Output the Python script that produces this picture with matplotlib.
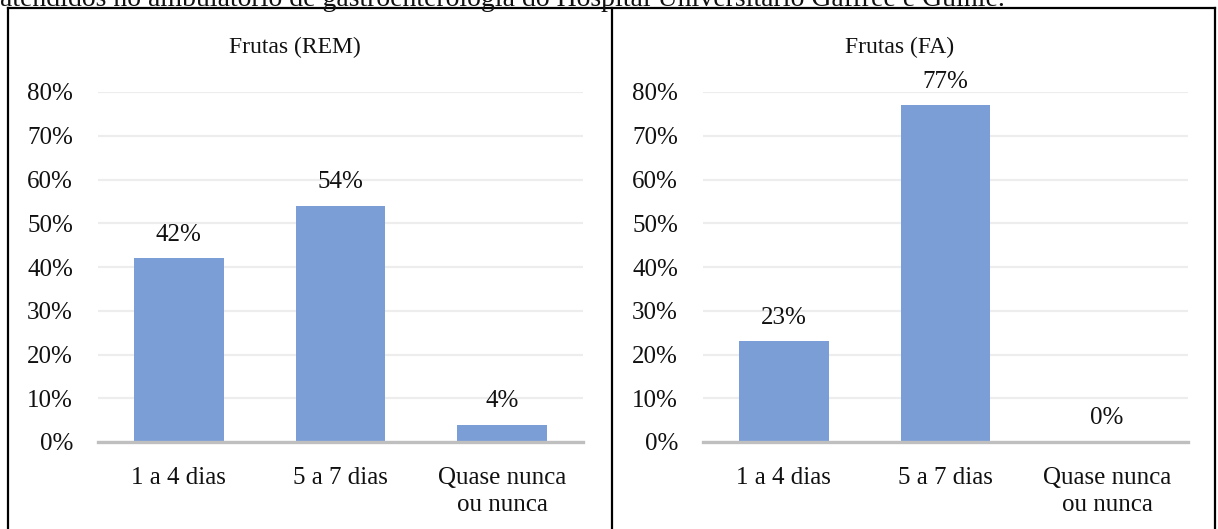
import matplotlib
matplotlib.use("Agg")
import matplotlib.pyplot as plt
from matplotlib.lines import Line2D
from matplotlib.ticker import PercentFormatter

plt.rcParams['font.family'] = ['Liberation Serif', 'DejaVu Serif']

categories = ["1 a 4 dias", "5 a 7 dias", "Quase nunca\nou nunca"]
rem_values = [42, 54, 4]
fa_values = [23, 77, 0]
titles = ["Frutas (REM)", "Frutas (FA)"]
caption = ("atendidos no ambulatório de gastroenterologia do Hospital "
           "Universitário Gaffrée e Guinle.")

W, H = 1218, 529
fig = plt.figure(figsize=(W / 100, H / 100), dpi=100)

bar_color = "#7B9ED7"
text_color = "#111111"
fs = 18


def px(x, y):
    return x / W, 1 - y / H


# caption line above the table (partially visible)
fig.text(0.0, 1 - 6 / H, caption, fontsize=20, color=text_color,
         ha="left", va="baseline")

# table borders
for xs, ys in [((7.5, 7.5), (7.5, H)), ((612, 612), (7.5, H)),
               ((1215, 1215), (7.5, H)), ((7.5, 1215), (7.5, 7.5))]:
    fig.add_artist(Line2D([x / W for x in xs], [1 - y / H for y in ys],
                          color="black", lw=1.6, transform=fig.transFigure))

panels = [(98, rem_values, titles[0], 295), (703, fa_values, titles[1], 900)]
for left_px, values, title, title_x in panels:
    ax = fig.add_axes([left_px / W, (H - 442) / H, 485 / W, 350 / H])
    xs = range(len(categories))
    ax.bar(xs, values, width=0.556, color=bar_color, zorder=2)
    ax.set_xlim(-0.5, len(categories) - 0.5)
    ax.set_ylim(0, 80)
    ax.set_yticks(range(0, 81, 10))
    ax.yaxis.set_major_formatter(PercentFormatter(decimals=0))
    ax.grid(axis="y", color="#EDEDED", lw=1.6, zorder=0)
    ax.set_axisbelow(True)
    for s in ["top", "right", "left"]:
        ax.spines[s].set_visible(False)
    ax.spines["bottom"].set_color("#BFBFBF")
    ax.spines["bottom"].set_linewidth(2.4)
    ax.spines["bottom"].set_zorder(3)
    ax.set_xticks(list(xs))
    ax.set_xticklabels(categories, fontsize=fs, color=text_color,
                       linespacing=1.3)
    ax.tick_params(axis="x", length=0, pad=18)
    ax.tick_params(axis="y", length=0, pad=18, labelsize=fs,
                   labelcolor=text_color)
    for x, v in zip(xs, values):
        ax.annotate(f"{v}%", (x, v), xytext=(0, 9), textcoords="offset points",
                    ha="center", va="bottom", fontsize=fs, color=text_color,
                    annotation_clip=False)
    tx, ty = px(title_x, 47)
    fig.text(tx, ty, title, ha="center", va="center", fontsize=17,
             color=text_color)

fig.savefig("out.png", dpi=100)
